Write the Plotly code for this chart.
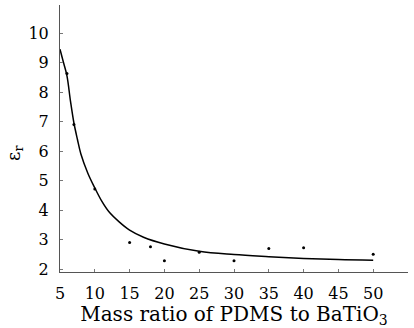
import plotly.graph_objects as go

# measured points
mass_ratio = [6, 7, 10, 15, 18, 20, 25, 30, 35, 40, 50]
eps_r = [8.63, 6.9, 4.71, 2.9, 2.76, 2.28, 2.57, 2.28, 2.7, 2.72, 2.5]

# fitted curve
fit_x = [5.0, 5.5, 6, 6.5, 7, 7.5, 8, 9, 10, 11, 12, 13.5, 15, 17, 20, 25, 30, 35, 40, 45, 50]
fit_y = [9.45, 9.0, 8.55, 7.7, 6.95, 6.4, 5.9, 5.25, 4.75, 4.3, 3.95, 3.6, 3.32, 3.08, 2.85, 2.6, 2.49, 2.42, 2.36, 2.32, 2.30]

x_ticks = [5, 10, 15, 20, 25, 30, 35, 40, 45, 50]
y_ticks = [2, 3, 4, 5, 6, 7, 8, 9, 10]

font_family = "DejaVu Serif, Liberation Serif, serif"

fig = go.Figure()
fig.add_trace(go.Scatter(x=fit_x, y=fit_y, mode="lines",
                         line=dict(color="black", width=1.5, shape="spline", smoothing=1.0),
                         hoverinfo="skip", showlegend=False))
fig.add_trace(go.Scatter(x=mass_ratio, y=eps_r, mode="markers",
                         marker=dict(color="black", size=3),
                         showlegend=False))

axis_common = dict(showgrid=False, zeroline=False, showline=True, linecolor="#555",
                   linewidth=1, ticks="inside", ticklen=3, tickcolor="#777",
                   automargin=False,
                   tickfont=dict(family=font_family, size=16, color="black"))

fig.update_layout(
    width=414, height=328,
    margin=dict(l=60, r=6, t=5, b=56),
    plot_bgcolor="white", paper_bgcolor="white",
    font=dict(family=font_family, color="black"),
    xaxis=dict(range=[5, 55], tickvals=x_ticks, ticklabelstandoff=7,
               title=dict(text="Mass ratio of PDMS to BaTiO<sub>3</sub>",
                          font=dict(family=font_family, size=20), standoff=2),
               **axis_common),
    yaxis=dict(range=[1.9, 10.95], tickvals=y_ticks, ticklabelstandoff=7,
               **axis_common),
    annotations=[dict(text="ε<sub>r</sub>", xref="paper", yref="paper",
                      x=-0.13, y=0.445, xanchor="center", yanchor="middle",
                      textangle=-90, showarrow=False,
                      font=dict(family=font_family, size=18, color="black"))],
)

fig.write_html("out.html", config={"displayModeBar": False},
               post_script="document.body.style.margin='0';document.body.style.overflow='hidden';")
